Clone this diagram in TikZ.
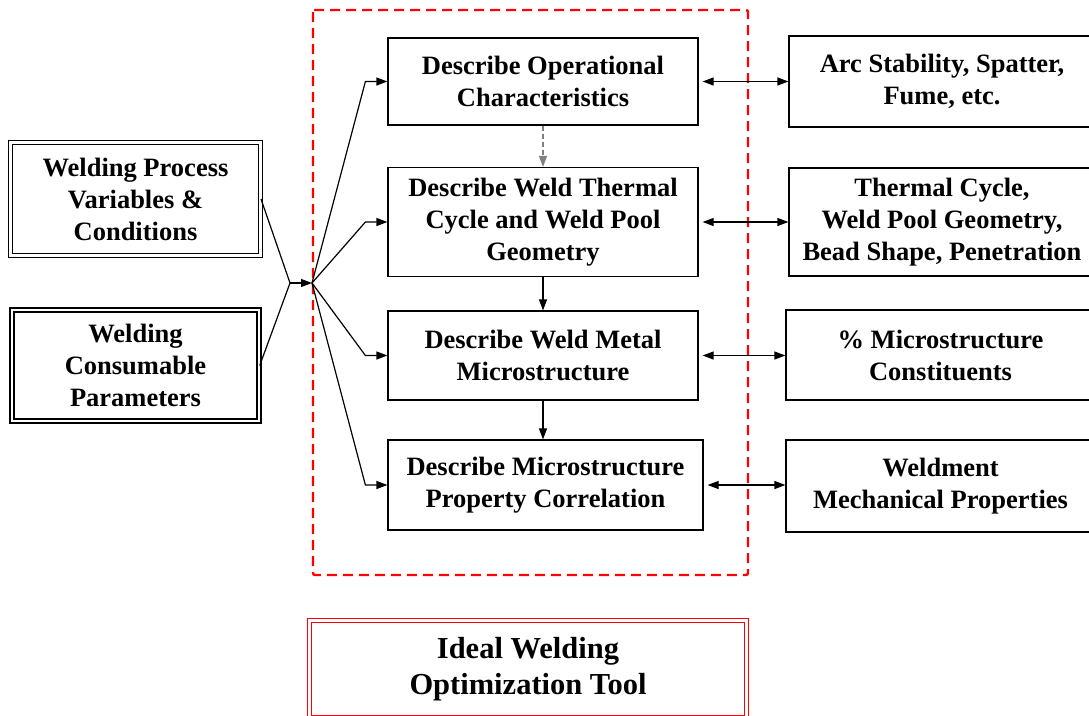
\documentclass[tikz,border=0pt]{standalone}
\usepackage{fontspec}
\setmainfont{Liberation Serif}
\usetikzlibrary{arrows.meta}

\begin{document}
\begin{tikzpicture}[x=1pt, y=-1pt,
	box/.style = {draw, line width=1.2pt, inner sep=0pt, align=center, font=\bfseries\fontsize{26.5}{32}\selectfont},
	dbox/.style = {box, double, double distance=2.5pt, line width=1pt},
	link/.style = {line width=1.2pt, -{Triangle[length=11pt,width=8pt]}},
	both/.style = {line width=1.2pt, {Triangle[length=11pt,width=8pt]}-{Triangle[length=11pt,width=8pt]}}]
				\useasboundingbox (0,0) rectangle (1089,715);
				\clip (0,0) rectangle (1089,715);
				%tool frame
				\draw[red, line width=2.4pt, dash pattern=on 10pt off 6pt, rounded corners=2pt] (313,10) rectangle (748,575);
				%input boxes
				\node[dbox, minimum width=250pt, minimum height=113pt] (proc) at (135.5,199) {Welding Process\\Variables \&\\Conditions};
				\node[dbox, line width=1.4pt, minimum width=247pt, minimum height=111pt] (cons) at (135.5,365.5) {Welding\\Consumable\\Parameters};
				%model steps
				\node[box, minimum width=310pt, minimum height=87pt] (oper) at (543,81.5) {Describe Operational\\Characteristics};
				\node[box, minimum width=310pt, minimum height=109pt] (therm) at (543,222) {Describe Weld Thermal\\Cycle and Weld Pool\\Geometry};
				\node[box, minimum width=310pt, minimum height=89pt] (micro) at (543,355.5) {Describe Weld Metal\\Microstructure};
				\node[box, minimum width=315pt, minimum height=90pt] (prop) at (545.5,485) {Describe Microstructure\\Property Correlation};
				%outputs
				\node[box, minimum width=306pt, minimum height=91pt] (arc) at (942,81.5) {Arc Stability, Spatter,\\Fume, etc.};
				\node[box, minimum width=306pt, minimum height=108pt] (pool) at (942,222) {Thermal Cycle,\\Weld Pool Geometry,\\Bead Shape, Penetration};
				\node[box, minimum width=309pt, minimum height=90pt] (const) at (940.5,355) {\% Microstructure\\Constituents};
				\node[box, minimum width=309pt, minimum height=92pt] (mech) at (940.5,486) {Weldment\\Mechanical Properties};
				%title box
				\node[dbox, draw=red, minimum width=437pt, minimum height=97pt, font=\bfseries\fontsize{30.5}{36}\selectfont] (tool) at (528,669) {Ideal Welding\\Optimization Tool};
				%inputs to the hub
				\coordinate (split) at (290,283);
				\coordinate (hub) at (312,283);
				\draw[line width=1.2pt] (proc.east) -- (split) -- (cons.east);
				\draw[link] (split) -- (hub);
				\foreach \n in {oper,therm,micro,prop}
					\draw[link] (hub) -- ([xshift=-22pt]\n.west) -- (\n.west);
				%steps
				\draw[link, gray, dash pattern=on 5pt off 3pt] (oper.south) -- (therm.north);
				\draw[link] (therm.south) -- (micro.north);
				\draw[link] (micro.south) -- (micro.south |- prop.north);
				\foreach \a/\b in {oper/arc,therm/pool,micro/const,prop/mech}
					\draw[both] ([xshift=4pt]\a.east) -- (\a.east -| \b.west);
			\end{tikzpicture}
\end{document}
